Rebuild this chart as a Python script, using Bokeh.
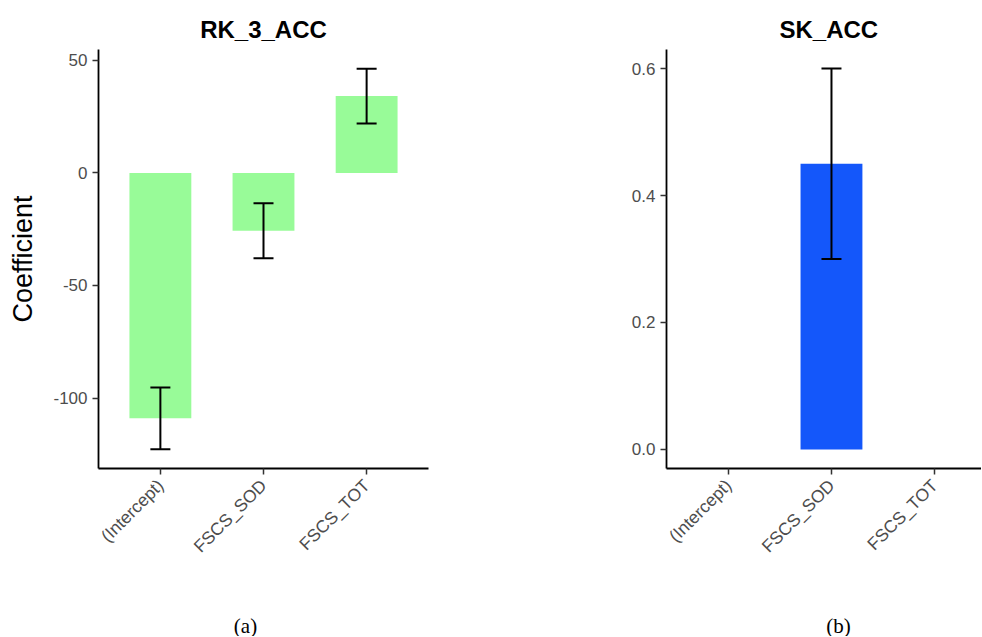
import math
from bokeh.plotting import figure
from bokeh.models import (ColumnDataSource, Range1d, FixedTicker, Whisker, TeeHead,
                          Label, NumeralTickFormatter)
from bokeh.layouts import row, column
from bokeh.embed import file_html
from bokeh.resources import INLINE

# ---------------- data ----------------
categories = ["(Intercept)", "FSCS_SOD", "FSCS_TOT"]

rk_title = "RK_3_ACC"
rk_coef = [-109.0, -25.7, 34.1]
rk_err = [13.7, 12.2, 12.2]
rk_ticks = [-100, -50, 0, 50]

sk_title = "SK_ACC"
sk_coef = [float("nan"), 0.45, float("nan")]
sk_err = [float("nan"), 0.15, float("nan")]
sk_ticks = [0.0, 0.2, 0.4, 0.6]

captions = ["(a)", "(b)"]

FONT = "Liberation Sans"
MAIN_H = 596
CAP_H = 40


def make_panel(title, coef, err, color, y_start, y_end, yticks, fmt,
               width, border_left, border_right, x_end, ylabel,
               title_align, title_offset):
    xs = list(range(len(categories)))
    keep = [i for i in xs if not math.isnan(coef[i])]
    src = ColumnDataSource(dict(
        x=[xs[i] for i in keep],
        top=[coef[i] for i in keep],
        upper=[coef[i] + err[i] for i in keep],
        lower=[coef[i] - err[i] for i in keep],
    ))
    p = figure(width=width, height=MAIN_H,
               x_range=Range1d(-0.6, x_end), y_range=Range1d(y_start, y_end),
               output_backend="svg", toolbar_location=None,
               min_border_left=border_left, min_border_right=border_right,
               min_border_top=49, min_border_bottom=MAIN_H - 468)
    p.outline_line_color = None
    p.xgrid.visible = False
    p.ygrid.visible = False

    p.vbar(x="x", top="top", bottom=0, width=0.6, source=src,
           fill_color=color, line_color=None)
    p.add_layout(Whisker(source=src, base="x", upper="upper", lower="lower",
                         level="overlay",
                         line_color="black", line_width=2,
                         upper_head=TeeHead(size=20, line_color="black", line_width=2),
                         lower_head=TeeHead(size=20, line_color="black", line_width=2)))

    # title
    p.title.text = title
    p.title.align = title_align
    p.title.offset = title_offset
    p.title.text_font = FONT
    p.title.text_font_size = "24px"
    p.title.text_font_style = "bold"
    p.title.text_color = "black"
    p.title.standoff = 13

    # axes
    for ax in (p.xaxis[0], p.yaxis[0]):
        ax.axis_line_color = "black"
        ax.axis_line_width = 1.8
        ax.major_tick_line_color = "#333333"
        ax.major_tick_line_width = 1.5
        ax.major_tick_out = 6
        ax.major_tick_in = 0
        ax.minor_tick_line_color = None
        ax.major_label_text_font = FONT
        ax.major_label_text_font_size = "17px"
        ax.major_label_text_color = "#4D4D4D"

    p.xaxis.ticker = FixedTicker(ticks=xs)
    p.xaxis.major_label_overrides = {i: c for i, c in zip(xs, categories)}
    p.xaxis.major_label_orientation = math.pi / 4
    p.xaxis.major_label_standoff = 8
    p.xaxis.major_label_text_font_size = "17.5px"

    p.yaxis.ticker = FixedTicker(ticks=yticks)
    if fmt:
        p.yaxis.formatter = NumeralTickFormatter(format=fmt)
    else:
        p.yaxis.major_label_overrides = {t: str(t) for t in yticks}
    p.yaxis.major_label_standoff = 5
    if ylabel:
        p.yaxis.axis_label = ylabel
        p.yaxis.axis_label_text_font = FONT
        p.yaxis.axis_label_text_font_size = "27px"
        p.yaxis.axis_label_text_font_style = "normal"
        p.yaxis.axis_label_text_color = "black"
        p.yaxis.axis_label_standoff = 12
    return p


def make_caption(text, width, cx):
    c = figure(width=width, height=CAP_H, x_range=Range1d(0, width), y_range=Range1d(0, CAP_H),
               output_backend="svg", toolbar_location=None,
               x_axis_location=None, y_axis_location=None, min_border=0)
    c.outline_line_color = None
    c.grid.visible = False
    c.add_layout(Label(x=cx, y=11, text=text, text_align="center", text_baseline="middle",
                       text_font="Liberation Serif", text_font_size="21px",
                       text_color="black"))
    return c


WA, WB = 470, 511
pA = make_panel(rk_title, rk_coef, rk_err, "#98FB98", -131.3, 54.8, rk_ticks, None,
                width=WA, border_left=98, border_right=42, x_end=2.6,
                ylabel="Coefficient", title_align="center", title_offset=0)
pB = make_panel(sk_title, sk_coef, sk_err, "#1457FA", -0.03, 0.63, sk_ticks, "0.0",
                width=WB, border_left=196, border_right=0, x_end=2.455,
                ylabel=None, title_align="left", title_offset=113)

cA = make_caption(captions[0], WA, 245)
cB = make_caption(captions[1], WB, 838 - WA)

layout = column(row(pA, pB), row(cA, cB))
open("out.html", "w").write(file_html(layout, INLINE))
